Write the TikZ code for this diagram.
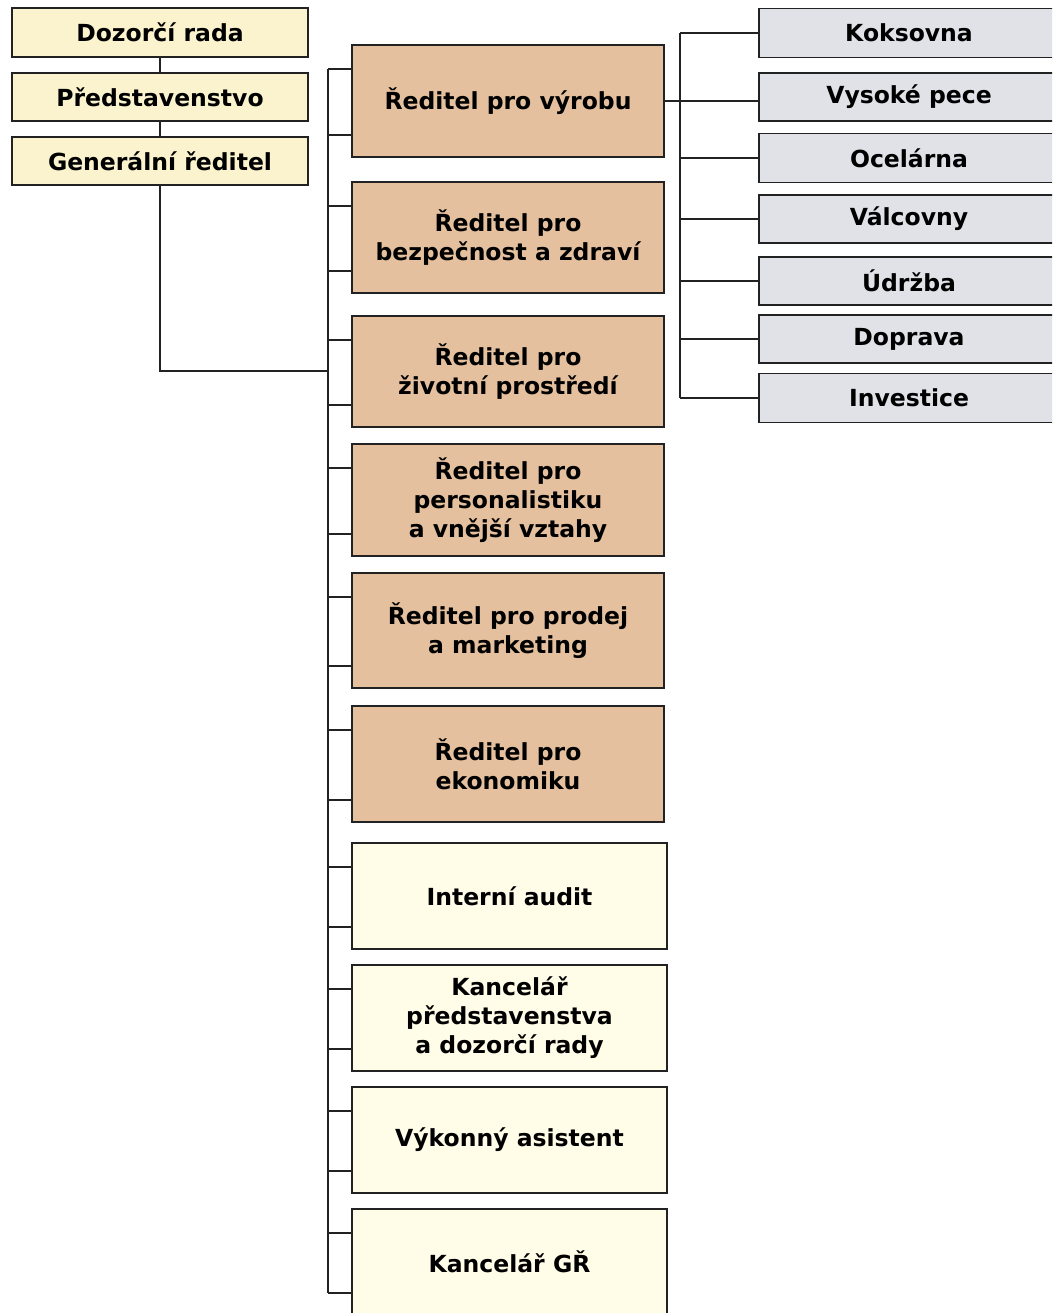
\documentclass[tikz,border=0pt]{standalone}
\usepackage{fontspec}
\setmainfont{DejaVu Sans}
\usetikzlibrary{calc}

\definecolor{linedark}{RGB}{34,34,34}
\definecolor{topyellow}{RGB}{250,243,205}
\definecolor{boxtan}{RGB}{228,192,158}
\definecolor{paleyellow}{RGB}{255,252,232}
\definecolor{unitgray}{RGB}{224,226,232}

\tikzset{
  box/.style={draw=linedark, line width=1.8pt, rectangle, inner sep=0pt,
    align=center, text=black, font=\bfseries\fontsize{23.5}{29}\selectfont},
  topbox/.style={box, fill=topyellow, minimum width=296pt},
  dirbox/.style={box, fill=boxtan, minimum width=312pt},
  staffbox/.style={box, fill=paleyellow, minimum width=315pt},
  unitbox/.style={box, fill=unitgray, minimum width=300pt},
  conn/.style={draw=linedark, line width=1.8pt}
}

\begin{document}
\begin{tikzpicture}[x=1pt,y=-1pt]
  \path[use as bounding box, clip] (0,0) rectangle (1052,1313);
  \fill[white] (0,0) rectangle (1052,1313);

  % governing bodies
  \node[topbox, minimum height=49pt] (dr) at (160,32.5) {Dozorčí rada};
  \node[topbox, minimum height=48pt] (pr) at (160,97) {Představenstvo};
  \node[topbox, minimum height=48pt] (gr) at (160,161) {Generální ředitel};

  % directors
  \node[dirbox, minimum height=112pt] (m1) at (508,101) {Ředitel pro výrobu};
  \node[dirbox, minimum height=111pt] (m2) at (508,237.5) {Ředitel pro\\bezpečnost a zdraví};
  \node[dirbox, minimum height=111pt] (m3) at (508,371.5) {Ředitel pro\\životní prostředí};
  \node[dirbox, minimum height=112pt] (m4) at (508,500) {Ředitel pro\\personalistiku\\a vnější vztahy};
  \node[dirbox, minimum height=115pt] (m5) at (508,630.5) {Ředitel pro prodej\\a marketing};
  \node[dirbox, minimum height=116pt] (m6) at (508,764) {Ředitel pro\\ekonomiku};

  % staff units
  \node[staffbox, minimum height=106pt] (s1) at (509.5,896) {Interní audit};
  \node[staffbox, minimum height=106pt] (s2) at (509.5,1018) {Kancelář\\představenstva\\a dozorčí rady};
  \node[staffbox, minimum height=106pt] (s3) at (509.5,1140) {Výkonný asistent};
  \node[staffbox, minimum height=106pt] (s4) at (509.5,1262) {Kancelář GŘ};

  % production units
  \node[unitbox, minimum height=49pt] (u1) at (909,33) {Koksovna};
  \node[unitbox, minimum height=48pt] (u2) at (909,97) {Vysoké pece};
  \node[unitbox, minimum height=49pt] (u3) at (909,158) {Ocelárna};
  \node[unitbox, minimum height=48pt] (u4) at (909,219) {Válcovny};
  \node[unitbox, minimum height=48pt] (u5) at (909,281) {Údržba};
  \node[unitbox, minimum height=48pt] (u6) at (909,339) {Doprava};
  \node[unitbox, minimum height=49pt] (u7) at (909,398) {Investice};

  % chain of the governing bodies
  \draw[conn] (dr.south) -- (pr.north);
  \draw[conn] (pr.south) -- (gr.north);

  % main spine with two stubs into every box
  \coordinate (spinetop) at ($(m1.north west)+(-23,25)$);
  \coordinate (spinebot) at ($(s4.south west)+(-23,-23)$);
  \draw[conn] (spinetop) -- (spinebot);
  \foreach \n in {m1,m2,m3,m4,m5,m6,s1,s2,s3,s4} {
    \draw[conn] ($(\n.north west)+(0,25)$) -- ++(-23,0);
    \draw[conn] ($(\n.south west)+(0,-23)$) -- ++(-23,0);
  }
  \coordinate (gj) at (329,371);
  \draw[conn] (gr.south) |- (gj);

  % production branch: one straight line crosses the spine into Vysoké pece
  \draw[conn] (m1.east) -- (m1.east -| u2.west);
  \draw[conn] ($(u1.west)+(-78,0)$) -- ($(u7.west)+(-78,0)$);
  \foreach \n in {u1,u3,u4,u5,u6,u7} {
    \draw[conn] (\n.west) -- ++(-78,0);
  }
\end{tikzpicture}
\end{document}
